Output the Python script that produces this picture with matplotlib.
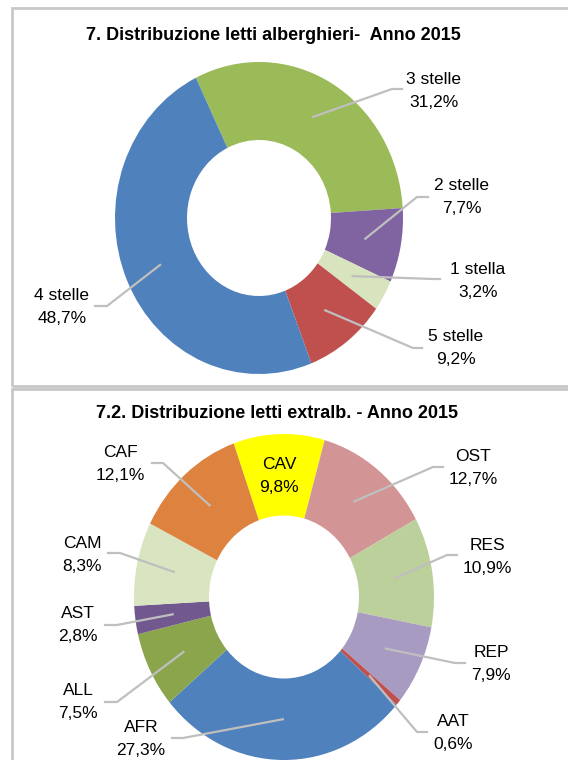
import matplotlib
matplotlib.use('Agg')
import matplotlib.pyplot as plt
import numpy as np
from matplotlib.lines import Line2D
from matplotlib.patches import Rectangle

plt.rcParams['font.family'] = ['Liberation Sans', 'DejaVu Sans']

# data
hotel_labels = ['3 stelle', '2 stelle', '1 stella', '5 stelle', '4 stelle']
hotel_pct = [31.2, 7.7, 3.2, 9.2, 48.7]
hotel_colors = ['#9BBB59', '#8064A2', '#D7E4BD', '#C0504D', '#4F81BD']

extra_labels = ['CAV', 'OST', 'RES', 'REP', 'AAT', 'AFR', 'ALL', 'AST', 'CAM', 'CAF']
extra_pct = [9.8, 12.7, 10.9, 7.9, 0.6, 27.3, 7.5, 2.8, 8.3, 12.1]
extra_colors = ['#FFFF00', '#D29494', '#BBD09A', '#A89BC2', '#C0504D',
                '#4F81BD', '#8AA54C', '#71598F', '#D9E4C0', '#DD823F']

W, H = 568, 760
fig = plt.figure(figsize=(W / 100, H / 100), dpi=100)
GRAY = '#BFBFBF'
FS = 12.5

# panel frames
fig.add_artist(Rectangle((12 / W, 1 - 386 / H), 1, 378 / H, transform=fig.transFigure,
                         fill=False, ec='#C8C8C8', lw=2))
fig.add_artist(Rectangle((12 / W, -0.1), 1, (760 - 389) / H + 0.1, transform=fig.transFigure,
                         fill=False, ec='#C8C8C8', lw=2))


def fig_xy(px, py):
    return px / W, 1 - py / H


def donut(vals, colors, cx, cy, rx, ry, start):
    ax = fig.add_axes([0, 0, 1, 1])
    ax.pie(vals, colors=colors, startangle=start, counterclock=False,
           wedgeprops=dict(width=0.5, edgecolor='none'))
    ax.set_aspect('auto')
    ax.set_xlim((0 - cx) / rx, (W - cx) / rx)
    ax.set_ylim((cy - H) / ry, cy / ry)
    ax.axis('off')
    return ax


def labels(ax, names, vals, layout):
    for w, name, v in zip(ax.patches, names, vals):
        tx, ty, elbow, end = layout[name]
        txt = name + '\n' + ('%.1f%%' % v).replace('.', ',')
        fig.text(*fig_xy(tx, ty), txt, ha='center', va='center',
                 fontsize=FS, linespacing=1.65)
        if elbow is None:
            continue
        mid = np.deg2rad((w.theta1 + w.theta2) / 2)
        p0 = ax.transData.transform((0.75 * np.cos(mid), 0.75 * np.sin(mid)))
        p0 = fig.transFigure.inverted().transform(p0)
        p1 = fig_xy(*elbow)
        p2 = fig_xy(end, elbow[1])
        fig.add_artist(Line2D([p0[0], p1[0], p2[0]], [p0[1], p1[1], p2[1]],
                              transform=fig.transFigure, color=GRAY, lw=1.6))


# top chart
fig.text(*fig_xy(273, 35), '7. Distribuzione letti alberghieri-  Anno 2015',
         ha='center', va='center', fontsize=13, fontweight='bold')
ax1 = donut(hotel_pct, hotel_colors, 259, 218, 144, 156, 116)
labels(ax1, hotel_labels, hotel_pct, {
    '3 stelle': (434, 91, (392, 89), 402),
    '2 stelle': (462, 197, (417, 197), 428),
    '1 stella': (478, 281, (433, 279), 440),
    '5 stelle': (456, 348, (413, 348), 422),
    '4 stelle': (62, 307, (107, 306), 95),
})

# bottom chart
fig.text(*fig_xy(277, 413), '7.2. Distribuzione letti extralb. - Anno 2015',
         ha='center', va='center', fontsize=13, fontweight='bold')
ax2 = donut(extra_pct, extra_colors, 284, 597, 150, 163, 109.6)
labels(ax2, extra_labels, extra_pct, {
    'CAV': (279, 476, None, None),
    'OST': (473, 468, (433, 467), 443),
    'RES': (487, 557, (447, 555), 457),
    'REP': (491, 664, (455, 663), 465),
    'AAT': (453, 733, (417, 732), 427),
    'AFR': (141, 739, (183, 738), 172),
    'ALL': (78, 702, (117, 702), 105),
    'AST': (78, 625, (117, 625), 105),
    'CAM': (82, 555, (120, 553), 108),
    'CAF': (120, 464, (163, 463), 152),
})

fig.savefig('out.png', dpi=100)
